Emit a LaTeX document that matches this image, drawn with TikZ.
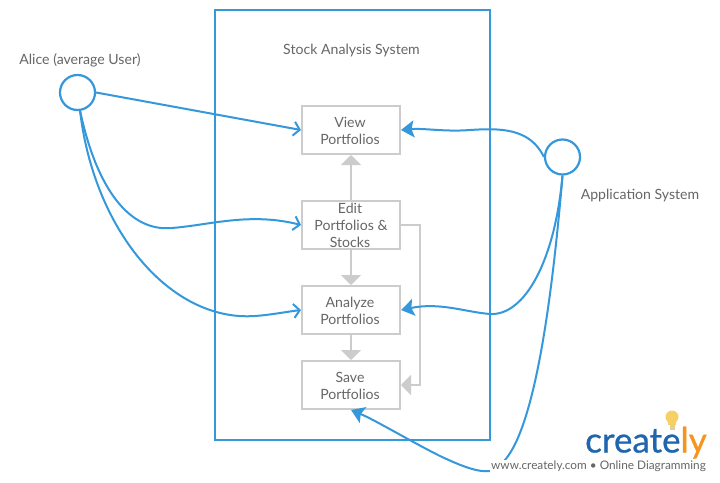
\documentclass[tikz,border=0pt]{standalone}
\usepackage{fontspec}
\setmainfont{Lato}
\newfontfamily\logofont[FakeBold=0.7]{Lato}
\usetikzlibrary{arrows.meta}
\definecolor{bl}{HTML}{3498DB}
\definecolor{gr}{HTML}{CCCCCC}
\definecolor{tx}{HTML}{666666}
\definecolor{lgb}{HTML}{1F66AE}
\definecolor{lgo}{HTML}{F7941E}
\definecolor{lgy}{HTML}{F6CF65}
\newcommand{\bline}[1]{#1\hspace*{2pt}}
\newcommand{\tline}[1]{\rule{0pt}{12.4pt}#1\hspace*{2pt}}
\tikzset{
 x=1pt,y=-1pt,
 box/.style={draw=gr,line width=2pt,fill=white,minimum width=98pt,minimum height=48pt,inner sep=0pt,align=center,text=tx,font=\fontsize{14.1}{17}\selectfont},
 actor/.style={circle,draw=bl,line width=2.2pt,minimum size=35pt,inner sep=0pt},
 lab/.style={text=tx,font=\fontsize{14.1}{17}\selectfont,inner sep=0pt},
 conn/.style={draw=bl,line width=2pt},
 openarr/.style={conn,-{Straight Barb[length=6pt,width=14pt,line width=2pt]}},
 fillarr/.style={conn,-{Stealth[length=13pt,width=17pt,inset=2.5pt]}},
 flow/.style={draw=gr,line width=2pt,-{Triangle[length=10pt,width=20pt]}},
}
\begin{document}
\begin{tikzpicture}
\useasboundingbox (0,0) rectangle (720,482);
\fill[white] (0,0) rectangle (720,482);
\node[draw=bl,line width=2pt,minimum width=275pt,minimum height=430pt,inner sep=0pt] (sys) at (352.5,225) {};
\node[lab] (systitle) at (351.5,51) {Stock Analysis System};
\node[box] (view) at (351,130) {\tline{View}\\\bline{Portfolios}};
\node[box] (edit) at (351,225) {\bline{Edit}\\\bline{Portfolios \&}\\\bline{Stocks}};
\node[box] (analyze) at (351,310) {\tline{Analyze}\\\bline{Portfolios}};
\node[box] (save) at (351,385) {\tline{Save}\\\bline{Portfolios}};
\node[actor] (alice) at (77.5,92.5) {};
\node[actor] (app) at (562.5,157) {};
\node[lab] (alicel) at (80,60) {Alice (average User)};
\node[lab] (appl) at (640,196) {Application System};
\draw[flow] (edit.north) -- (view.south);
\draw[flow] (edit.south) -- (analyze.north);
\draw[flow] (analyze.south) -- (save.north);
\draw[flow] (edit.east) -- (420,225) -- (420,385) -- (save.east);
\draw[openarr] (alice.east) -- (view.west);
\draw[openarr] (alice.-82) .. controls (97,190) and (130,232) .. (172,228) .. controls (210,225) and (250,212) .. (edit.west);
\draw[openarr] (alice.-82) .. controls (94,230) and (170,322) .. (255,316) .. controls (270,315) and (285,312) .. (analyze.west);
\draw[fillarr] (app.west) .. controls (530,128) and (500,128) .. (470,130) .. controls (445,132) and (425,128) .. (view.east);
\draw[fillarr] (app.south) .. controls (555,260) and (525,316) .. (490,314) .. controls (465,312) and (440,302) .. (analyze.east);
\draw[fillarr] (app.south) .. controls (552,300) and (535,425) .. (505,460) .. controls (495,480) and (470,470) .. (440,456) .. controls (410,441) and (375,420) .. (save.south);
\node[fill=white,inner sep=1pt,text=tx,font=\fontsize{11.8}{13}\selectfont] (url) at (598.5,466) {www.creately.com • Online Diagramming};
\node[inner sep=0pt,font=\logofont\fontsize{35}{35}\selectfont,anchor=base west] (logo) at (585,452.5) {\textcolor{lgb}{create}\textcolor{lgo}{ly}};
\fill[lgy] (672,417) circle (6.5pt);
\fill[lgy] (668,420) rectangle (676,425);
\fill[lgy!60!gr] (669.5,425) rectangle (674.5,430);
\end{tikzpicture}
\end{document}
